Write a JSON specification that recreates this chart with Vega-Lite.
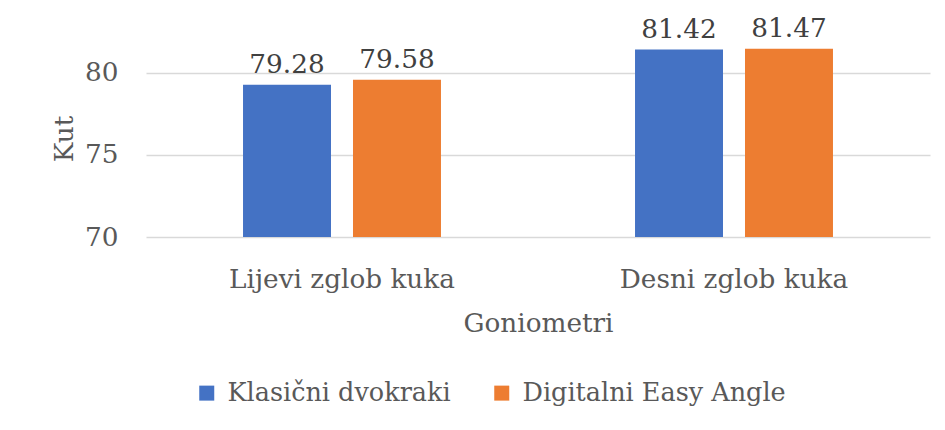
{
  "$schema": "https://vega.github.io/schema/vega-lite/v6.json",
  "width": 784,
  "height": 197,
  "autosize": {"type": "none"},
  "padding": {"left": 146, "top": 40, "right": 15, "bottom": 193},
  "background": "white",
  "config": {
    "view": {"stroke": null},
    "font": "DejaVu Serif"
  },
  "data": {
    "values": [
      {"zglob": "Lijevi zglob kuka", "goniometar": "Klasični dvokraki", "kut": 79.28},
      {"zglob": "Lijevi zglob kuka", "goniometar": "Digitalni Easy Angle", "kut": 79.58},
      {"zglob": "Desni zglob kuka", "goniometar": "Klasični dvokraki", "kut": 81.42},
      {"zglob": "Desni zglob kuka", "goniometar": "Digitalni Easy Angle", "kut": 81.47}
    ]
  },
  "encoding": {
    "x": {
      "field": "zglob",
      "type": "nominal",
      "sort": null,
      "title": "Goniometri",
      "scale": {"paddingInner": 0.495, "paddingOuter": 0.2475},
      "axis": {
        "labelFont": "DejaVu Serif",
        "labelFontSize": 26.3,
        "labelColor": "#595959",
        "labelAngle": 0,
        "labelBaseline": "alphabetic",
        "labelPadding": 50,
        "labelLimit": 0,
        "ticks": false,
        "tickSize": 0,
        "domain": false,
        "grid": false,
        "titleFont": "DejaVu Serif",
        "titleFontSize": 26.3,
        "titleFontWeight": "normal",
        "titleColor": "#595959",
        "titleBaseline": "alphabetic",
        "titleY": 94
      }
    },
    "xOffset": {
      "field": "goniometar",
      "type": "nominal",
      "sort": null,
      "scale": {"paddingInner": 0.2, "paddingOuter": 0}
    },
    "y": {
      "field": "kut",
      "type": "quantitative",
      "title": "Kut",
      "scale": {"domain": [70, 82], "zero": false, "nice": false},
      "axis": {
        "values": [70, 75, 80],
        "labelFont": "DejaVu Serif",
        "labelFontSize": 26.3,
        "labelColor": "#595959",
        "labelBaseline": "middle",
        "labelPadding": 28,
        "ticks": false,
        "tickSize": 0,
        "domain": false,
        "grid": true,
        "gridColor": "#d9d9d9",
        "gridWidth": 1.5,
        "titleFont": "DejaVu Serif",
        "titleFontSize": 26.3,
        "titleFontWeight": "normal",
        "titleColor": "#595959",
        "titleAngle": -90,
        "titleBaseline": "alphabetic",
        "titleX": -74
      }
    }
  },
  "layer": [
    {
      "mark": {"type": "bar", "clip": true},
      "encoding": {
        "color": {
          "field": "goniometar",
          "type": "nominal",
          "sort": null,
          "scale": {
            "domain": ["Klasični dvokraki", "Digitalni Easy Angle"],
            "range": ["#4472C4", "#ED7D31"]
          },
          "legend": {
            "orient": "none",
            "legendX": 48,
            "legendY": 340,
            "direction": "horizontal",
            "title": null,
            "symbolType": "square",
            "symbolSize": 225,
            "symbolStrokeWidth": 0,
            "symbolOpacity": 1,
            "labelFont": "DejaVu Serif",
            "labelFontSize": 25.5,
            "labelColor": "#595959",
            "labelOffset": 8,
            "labelLimit": 0,
            "columnPadding": 38,
            "padding": 0
          }
        }
      }
    },
    {
      "mark": {
        "type": "text",
        "dy": -12,
        "baseline": "alphabetic",
        "align": "center",
        "font": "DejaVu Serif",
        "fontSize": 26.3,
        "color": "#404040"
      },
      "encoding": {
        "text": {"field": "kut", "type": "quantitative", "format": ".2f"}
      }
    }
  ]
}
